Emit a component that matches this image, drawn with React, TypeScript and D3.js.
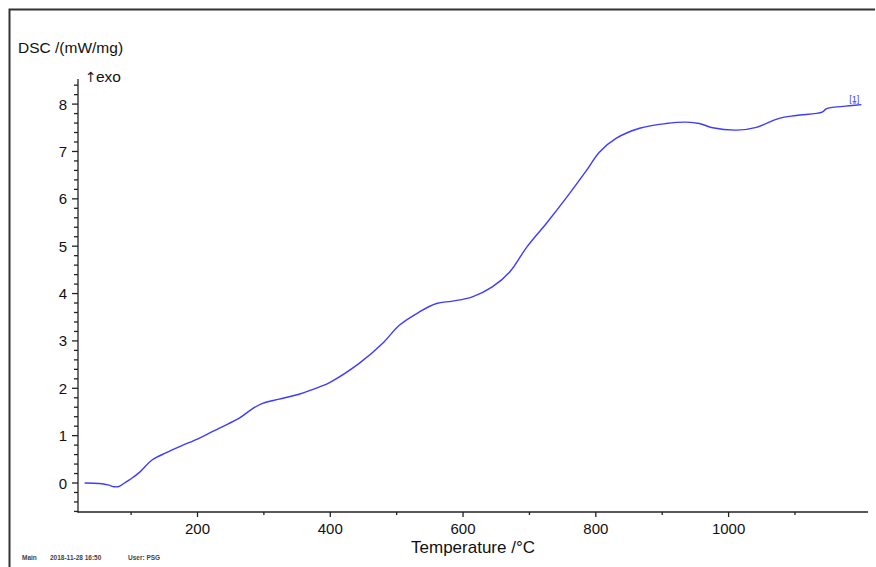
import React, { useEffect, useRef } from "react";
import * as d3 from "d3";

// temperature (°C) and DSC signal (mW/mg)
const temperatures = [
  30, 52, 65, 75, 82, 90, 100, 113, 132, 153, 175, 203, 233, 263, 283, 298, 323, 354, 384, 399,
  444, 479, 504, 534, 560, 584, 614, 644, 670, 696, 726, 756, 786, 805, 831, 866, 906, 936, 956,
  976, 1012, 1042, 1076, 1102, 1141, 1147, 1156, 1186, 1200,
];
const dscValues = [
  0, -0.01, -0.04, -0.08, -0.07, 0.0, 0.09, 0.23, 0.49, 0.64, 0.78, 0.95, 1.16, 1.37, 1.57, 1.68,
  1.77, 1.88, 2.03, 2.12, 2.53, 2.95, 3.33, 3.61, 3.79, 3.84, 3.93, 4.14, 4.45, 4.98, 5.49, 6.03,
  6.6, 6.98, 7.28, 7.49, 7.59, 7.62, 7.59, 7.5, 7.45, 7.51, 7.7, 7.76, 7.83, 7.9, 7.93, 7.97, 7.99,
];

const xMajorTicks = [200, 400, 600, 800, 1000];
const xMinorTicks = [100, 300, 500, 700, 900, 1100];
const yMajorTicks = [0, 1, 2, 3, 4, 5, 6, 7, 8];

const FONT = "'Liberation Sans', Arial, sans-serif";

export default function App() {
  const svgRef = useRef<SVGSVGElement | null>(null);

  useEffect(() => {
    const svg = d3.select(svgRef.current);
    svg.selectAll("*").remove();

    // outer frame
    svg.append("path")
      .attr("d", "M9.5,567 V9.5 H875")
      .attr("fill", "none")
      .attr("stroke", "#333")
      .attr("stroke-width", 2);

    const x = d3.scaleLinear().domain([20, 1210]).range([78, 868]);
    const y = d3.scaleLinear().domain([-0.612, 8.53]).range([512, 79]);

    // y minor ticks every 0.2
    const yMinor = d3.range(-6, 86, 2).map((v) => v / 10).filter((v) => Math.abs(v - Math.round(v)) > 0.01);

    const axes = svg.append("g").attr("stroke", "#222").attr("stroke-width", 1.3);
    axes.append("line").attr("x1", 78).attr("x2", 78).attr("y1", 79).attr("y2", 512.5);
    axes.append("line").attr("x1", 77.5).attr("x2", 868).attr("y1", 512).attr("y2", 512);

    axes.selectAll(".ymaj").data(yMajorTicks).join("line")
      .attr("x1", 72).attr("x2", 78)
      .attr("y1", (d) => y(d)).attr("y2", (d) => y(d));
    axes.selectAll(".ymin").data(yMinor).join("line")
      .attr("class", "ymin")
      .attr("x1", 74).attr("x2", 78)
      .attr("y1", (d) => y(d)).attr("y2", (d) => y(d));
    axes.selectAll(".xmaj").data(xMajorTicks).join("line")
      .attr("class", "xmaj")
      .attr("x1", (d) => x(d)).attr("x2", (d) => x(d))
      .attr("y1", 512).attr("y2", 517);
    axes.selectAll(".xmin").data(xMinorTicks).join("line")
      .attr("class", "xmin")
      .attr("x1", (d) => x(d)).attr("x2", (d) => x(d))
      .attr("y1", 512).attr("y2", 515);

    // tick labels
    svg.append("g").selectAll("text").data(yMajorTicks).join("text")
      .attr("x", 67).attr("y", (d) => y(d) + 5.5)
      .attr("text-anchor", "end")
      .attr("font-family", FONT).attr("font-size", 15).attr("fill", "#111")
      .text((d) => d);
    svg.append("g").selectAll("text").data(xMajorTicks).join("text")
      .attr("x", (d) => x(d)).attr("y", 534)
      .attr("text-anchor", "middle")
      .attr("font-family", FONT).attr("font-size", 15).attr("fill", "#111")
      .text((d) => d);

    // axis titles
    svg.append("text")
      .attr("x", 18).attr("y", 53)
      .attr("font-family", FONT).attr("font-size", 15.5).attr("fill", "#111")
      .text("DSC /(mW/mg)");
    svg.append("text")
      .attr("x", 85).attr("y", 82)
      .attr("font-family", "'DejaVu Sans', sans-serif").attr("font-size", 14).attr("fill", "#222")
      .text("↑");
    svg.append("text")
      .attr("x", 96).attr("y", 82)
      .attr("font-family", FONT).attr("font-size", 15.5).attr("fill", "#111")
      .text("exo");
    svg.append("text")
      .attr("x", 473).attr("y", 553)
      .attr("text-anchor", "middle")
      .attr("font-family", FONT).attr("font-size", 17).attr("fill", "#111")
      .text("Temperature /°C");

    // footer
    const footer = svg.append("g")
      .attr("font-family", FONT).attr("font-size", 6.5).attr("font-weight", "bold").attr("fill", "#444");
    footer.append("text").attr("x", 22).attr("y", 560).text("Main");
    footer.append("text").attr("x", 50).attr("y", 560).text("2018-11-28 16:50");
    footer.append("text").attr("x", 128).attr("y", 560).text("User: PSG");

    // DSC curve
    const data = temperatures.map((t, i) => [t, dscValues[i]] as [number, number]);
    svg.append("path")
      .datum(data)
      .attr("fill", "none")
      .attr("stroke", "#3c3cff")
      .attr("stroke-width", 1.4)
      .attr("d", d3.line<[number, number]>()
        .x((d) => x(d[0]))
        .y((d) => y(d[1]))
        .curve(d3.curveCatmullRom.alpha(0.5)));

    // curve label
    const last = data[data.length - 1];
    svg.append("text")
      .attr("x", x(last[0]) - 12).attr("y", y(last[1]) - 3)
      .attr("font-family", FONT).attr("font-size", 9).attr("fill", "#3c3cff")
      .attr("text-decoration", "underline")
      .text("[1]");
  }, []);

  return (
    <svg
      ref={svgRef}
      width={876}
      height={567}
      style={{ position: "absolute", left: 0, top: 0, background: "#fff" }}
    />
  );
}
